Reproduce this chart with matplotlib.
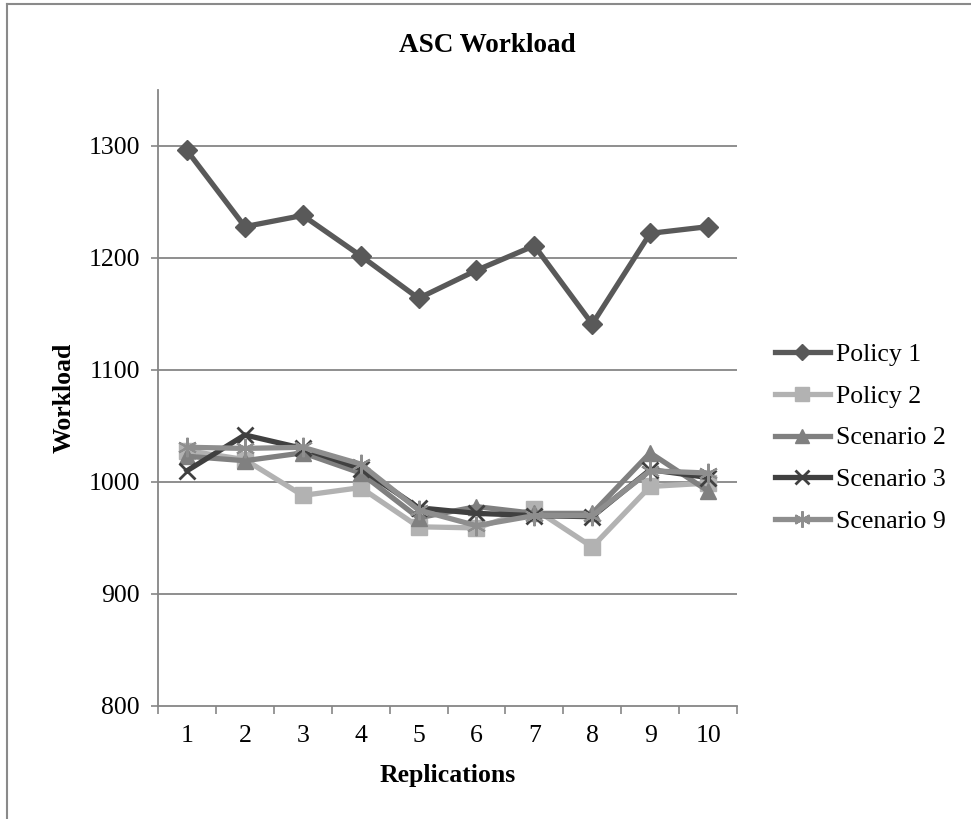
import matplotlib
matplotlib.use("Agg")
import matplotlib.pyplot as plt
from matplotlib.lines import Line2D

replications = [1, 2, 3, 4, 5, 6, 7, 8, 9, 10]
policy1 = [1296, 1228, 1238, 1202, 1164, 1189, 1211, 1141, 1222, 1228]
policy2 = [1028, 1020, 988, 995, 960, 959, 976, 942, 996, 999]
scenario2 = [1023, 1019, 1026, 1008, 968, 978, 972, 972, 1026, 992]
scenario3 = [1010, 1042, 1030, 1012, 977, 972, 970, 969, 1011, 1004]
scenario9 = [1031, 1030, 1031, 1016, 975, 961, 970, 970, 1010, 1008]
yticks = [800, 900, 1000, 1100, 1200, 1300]

plt.rcParams['font.family'] = ['Liberation Serif', 'DejaVu Serif']
FS = 18.5

fig = plt.figure(figsize=(9.71, 8.19), dpi=100)
ax = fig.add_axes([158/971, 1-706/819, 579/971, 616/819])

series = [
    ("Policy 1", policy1, "#595959", "D", 10, 1),
    ("Policy 2", policy2, "#b2b2b2", "s", 12, 1),
    ("Scenario 2", scenario2, "#808080", "^", 12, 1),
    ("Scenario 3", scenario3, "#404040", "x", 12, 2),
    ("Scenario 9", scenario9, "#8e8e8e", (6, 2, 0), 14, 1.5),
]
for name, vals, col, mk, ms, mew in series:
    ax.plot(replications, vals, color=col, lw=3.8, marker=mk, markersize=ms,
            markerfacecolor=col, markeredgecolor=col, markeredgewidth=mew,
            label=name, solid_joinstyle='miter')

ax.set_xlim(0.5, 10.5)
ax.set_ylim(800, 1350)
ax.set_yticks(yticks)
ax.set_yticklabels([str(v) for v in yticks], fontsize=FS)
ax.set_xticks(replications)
ax.set_xticklabels([str(v) for v in replications], fontsize=FS)
ax.set_xticks([i + 0.5 for i in range(0, 11)], minor=True)
ax.tick_params(axis='x', which='major', length=0, pad=14)
ax.tick_params(axis='x', which='minor', length=6, color='#868686', width=1.2, direction='out')
ax.tick_params(axis='y', length=5, color='#868686', width=1.2, direction='out', pad=8)

for y in yticks[1:]:
    ax.axhline(y, color='#868686', lw=1.3, zorder=0)
for s in ['top', 'right']:
    ax.spines[s].set_visible(False)
for s in ['left', 'bottom']:
    ax.spines[s].set_color('#868686')
    ax.spines[s].set_linewidth(1.3)

ax.set_xlabel("Replications", fontsize=FS, fontweight='bold', labelpad=12)
ax.set_ylabel("Workload", fontsize=FS, fontweight='bold', labelpad=9)
fig.text(487/971, 1-45/819, "ASC Workload", fontsize=19.5, fontweight='bold',
         ha='center', va='center')

leg = fig.legend(loc='center left', bbox_to_anchor=(775/971, 1-438/819),
                 frameon=False, fontsize=FS, handlelength=2.14, handletextpad=0.23,
                 labelspacing=0.73, borderpad=0, borderaxespad=0, markerscale=0.85)

# outer frame
fig.add_artist(Line2D([7/971, 1], [1-4/819, 1-4/819], color='#8a8a8a', lw=1.5))
fig.add_artist(Line2D([7/971, 7/971], [0, 1-4/819], color='#8a8a8a', lw=1.5))

fig.savefig("out.png", dpi=100)
